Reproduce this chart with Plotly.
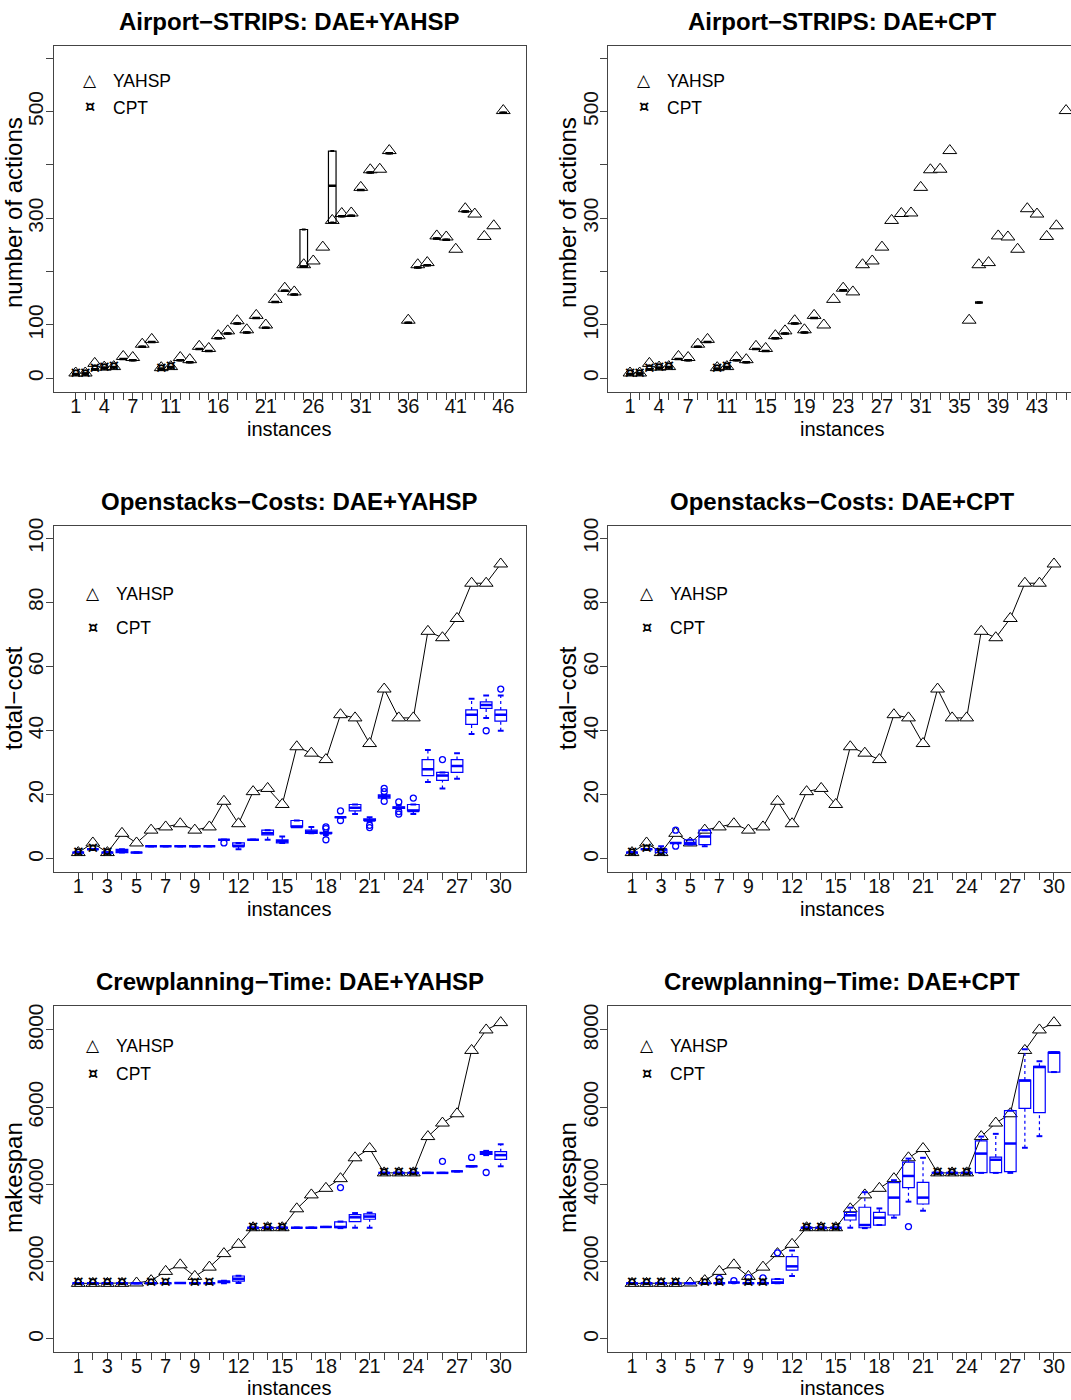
import plotly.graph_objects as go

W, H = 1071, 1400
FONT = "Liberation Sans, Arial, Helvetica, sans-serif"
BLUE = "#0000ff"
FRAME = "#444444"
BOX_W = 0.8          # box width in instance units (R boxwex)
STAPLE = 0.5         # staple width relative to box width

# ---------------- data ----------------
# Airport-STRIPS (46 instances)
air_instances = list(range(1, 47))
air_labels_left = [1, 4, 7, 11, 16, 21, 26, 31, 36, 41, 46]
air_labels_right = [1, 4, 7, 11, 15, 19, 23, 27, 31, 35, 39, 43]
air_yticks = [0, 100, 200, 300, 400, 500, 600]
air_ylabels = ["0", "100", "", "300", "", "500", ""]
air_yahsp = [10, 10, 28, 21, 22, 41, 39, 64, 73, 20,
             22, 39, 35, 60, 56, 80, 89, 108, 91, 118,
             100, 148, 169, 162, 213, 220, 246, 296, 309, 310,
             358, 391, 392, 427, None, 109, 213, 217, 267, 265,
             242, 318, 308, 266, 286, 502]
air_cpt_instances = [1, 2, 3, 4, 5, 10, 11]
air_cpt = [8, 9, 17, 20, 21, 18, 21]
# DAE results: number = all runs equal; tuple = (min, q1, median, q3, max); None = unsolved
air_dae_yahsp = [8, 9, 17, 20, 21, 36, 34, 59, 68, 18,
                 21, 34, 30, 55, 51, 75, 84, 103, 86, 113,
                 95, 143, 164, 157, (209, 209, 209, 279, 279), None, None, (292, 292, 361, 426, 426), 304, 305,
                 353, 386, None, 422, None, 104, 208, 212, 262, 260,
                 None, 313, None, None, None, 498]
air_dae_cpt_instances = [1, 2, 3, 4, 5, 6, 7, 8, 9, 10, 11, 12, 13, 14, 15, 16, 17, 18, 19, 20, 23, 37]
air_dae_cpt = [8, 9, 17, 20, 21, 36, 34, 59, 68, 18, 21, 34, 30, 55, 51, 75, 84, 103, 86, 113, 165, 142]

# Openstacks-Costs (30 instances)
open_instances = list(range(1, 31))
open_labels = [1, 3, 5, 7, 9, 12, 15, 18, 21, 24, 27, 30]
open_yticks = [0, 20, 40, 60, 80, 100]
open_ylabels = ["0", "20", "40", "60", "80", "100"]
open_yahsp = [2, 5, 2, 8, 5, 9, 10, 11, 9, 10,
              18, 11, 21, 22, 17, 35, 33, 31, 45, 44,
              36, 53, 44, 44, 71, 69, 75, 86, 86, 92]
open_cpt_instances = [1, 2, 3]
open_cpt = [2, 3, 2]
open_dae_yahsp = [2, 3, 2, (2, 2, 2.5, 3, 3), 2, 4, 4, 4, 4, 4,
                  6, (3, 4, 4, 5, 5), 6, (6, 7.5, 8, 9, 9), (5, 5, 5.5, 6, 7),
                  (10, 10, 10, 12, 12), (8, 8, 8.5, 9, 10), (7.5, 8, 8, 8.3, 8.5), 13, (14, 15, 16, 17, 17),
                  (11.5, 12, 12, 12.5, 13), (19, 19, 19.5, 20, 20), (15.5, 15.8, 16, 16.3, 16.8),
                  (14, 15, 15, 17, 17), (24, 26, 28, 31, 34),
                  (22, 24.5, 26, 27, 27), (25, 27, 29, 31, 33), (39, 42, 45, 46.5, 50),
                  (44, 47, 48, 49, 51), (40, 43, 45, 46.5, 51)]
open_out_yahsp_x = [11, 18, 18, 18, 19, 19, 21, 21, 22, 22, 22, 23, 23, 23, 24, 26, 29, 30]
open_out_yahsp_y = [5, 10, 9.5, 6, 15, 12, 10.5, 9.8, 22, 21, 18, 17.8, 14.8, 14, 19, 31, 40, 53]
open_dae_cpt_instances = [1, 2, 3, 4, 5, 6]
open_dae_cpt = [2, 3, (2, 2, 3, 3, 4), 5, (4.5, 4.5, 5, 6, 6), (4, 4.5, 7, 9, 9)]
open_out_cpt_x = [4, 4]
open_out_cpt_y = [4, 9]

# Crewplanning-Time (30 instances)
crew_instances = list(range(1, 31))
crew_labels = [1, 3, 5, 7, 9, 12, 15, 18, 21, 24, 27, 30]
crew_yticks = [0, 2000, 4000, 6000, 8000]
crew_ylabels = ["0", "2000", "4000", "6000", "8000"]
crew_yahsp = [1440, 1440, 1440, 1440, 1450, 1510, 1750, 1920, 1620, 1860,
              2210, 2450, 2880, 2880, 2880, 3370, 3730, 3900, 4150, 4690,
              4930, 4300, 4300, 4300, 5240, 5590, 5830, 7470, 8000, 8190]
crew_cpt_instances = [1, 2, 3, 4, 6, 7, 9, 10, 13, 14, 15, 22, 23, 24]
crew_cpt = [1440, 1440, 1440, 1440, 1440, 1440, 1440, 1440, 2880, 2880, 2880, 4300, 4300, 4300]
crew_dae_yahsp = [1440, 1440, 1440, 1440, 1440, 1440, 1440, 1450, 1440, 1440,
                  (1440, 1460, 1480, 1500, 1510), (1450, 1500, 1560, 1630, 1640),
                  2880, 2880, 2880, 2880, 2880, 2900,
                  (2870, 2880, 2900, 3030, 3040), (2880, 3040, 3150, 3220, 3260), (2880, 3100, 3170, 3240, 3270),
                  4300, 4300, 4300, 4300, 4300, 4340, 4470,
                  (4760, 4780, 4810, 4850, 4870), (4470, 4650, 4760, 4850, 5040)]
crew_out_yahsp_x = [19, 26, 28, 29]
crew_out_yahsp_y = [3920, 4600, 4700, 4310]
crew_dae_cpt = [1440, 1440, 1440, 1440, 1440, 1440, 1440, 1460, 1440, 1440,
                (1440, 1440, 1460, 1550, 1550), (1630, 1780, 1880, 2130, 2290),
                2880, 2880, 2880,
                (2880, 3080, 3200, 3280, 3400), (2870, 2880, 2950, 3410, 3800), (2950, 2950, 3140, 3280, 3380),
                (3140, 3210, 3660, 4050, 4110), (3555, 3920, 4220, 4580, 4670), (3320, 3495, 3660, 4055, 4690),
                4300, 4300, 4300,
                (4300, 4305, 4800, 5130, 5240), (4300, 4305, 4640, 4710, 5310), (4300, 4330, 5060, 5910, 5910),
                (4950, 5970, 6690, 6705, 7500), (5250, 5860, 7040, 7060, 7190), (6910, 6910, 7420, 7420, 7420)]
crew_out_cpt_x = [7, 8, 9, 10, 11, 20]
crew_out_cpt_y = [1570, 1510, 1590, 1580, 2230, 2910]

# ---------------- helpers ----------------
def px(x):
    return x / W


def py(y):
    return 1 - y / H


def expand(inst, vals):
    xs, lo, q1, md, q3, hi = [], [], [], [], [], []
    for i, v in zip(inst, vals):
        if v is None:
            continue
        if isinstance(v, tuple):
            a, b, c, d, e = v
        else:
            a = b = c = d = e = v
        xs.append(i); lo.append(a); q1.append(b); md.append(c); q3.append(d); hi.append(e)
    return xs, lo, q1, md, q3, hi


panels = [
    dict(title="Airport\u2212STRIPS: DAE+YAHSP", ytitle="number of actions", inst=air_instances,
         yahsp=air_yahsp, lines=False, cpt_x=air_cpt_instances, cpt_y=air_cpt,
         dae_x=air_instances, dae=air_dae_yahsp, out_x=[], out_y=[], color="black",
         labels=air_labels_left, yt=air_yticks, yl=air_ylabels, xr=[-1.34, 48.34], yr=[-24.7, 624], col=0, row=0),
    dict(title="Airport\u2212STRIPS: DAE+CPT", ytitle="number of actions", inst=air_instances,
         yahsp=air_yahsp, lines=False, cpt_x=air_cpt_instances, cpt_y=air_cpt,
         dae_x=air_dae_cpt_instances, dae=air_dae_cpt, out_x=[], out_y=[], color="black",
         labels=air_labels_right, yt=air_yticks, yl=air_ylabels, xr=[-1.27, 46.51], yr=[-24.7, 624], col=1, row=0),
    dict(title="Openstacks\u2212Costs: DAE+YAHSP", ytitle="total\u2212cost", inst=open_instances,
         yahsp=open_yahsp, lines=True, cpt_x=open_cpt_instances, cpt_y=open_cpt,
         dae_x=open_instances, dae=open_dae_yahsp, out_x=open_out_yahsp_x, out_y=open_out_yahsp_y, color=BLUE,
         labels=open_labels, yt=open_yticks, yl=open_ylabels, xr=[-0.7, 31.7], yr=[-3.9, 104.0], col=0, row=1),
    dict(title="Openstacks\u2212Costs: DAE+CPT", ytitle="total\u2212cost", inst=open_instances,
         yahsp=open_yahsp, lines=True, cpt_x=open_cpt_instances, cpt_y=open_cpt,
         dae_x=open_dae_cpt_instances, dae=open_dae_cpt, out_x=open_out_cpt_x, out_y=open_out_cpt_y, color=BLUE,
         labels=open_labels, yt=open_yticks, yl=open_ylabels, xr=[-0.65, 31.17], yr=[-3.9, 104.0], col=1, row=1),
    dict(title="Crewplanning\u2212Time: DAE+YAHSP", ytitle="makespan", inst=crew_instances,
         yahsp=crew_yahsp, lines=True, cpt_x=crew_cpt_instances, cpt_y=crew_cpt,
         dae_x=crew_instances, dae=crew_dae_yahsp, out_x=crew_out_yahsp_x, out_y=crew_out_yahsp_y, color=BLUE,
         labels=crew_labels, yt=crew_yticks, yl=crew_ylabels, xr=[-0.7, 31.7], yr=[-324, 8633], col=0, row=2),
    dict(title="Crewplanning\u2212Time: DAE+CPT", ytitle="makespan", inst=crew_instances,
         yahsp=crew_yahsp, lines=True, cpt_x=crew_cpt_instances, cpt_y=crew_cpt,
         dae_x=crew_instances, dae=crew_dae_cpt, out_x=crew_out_cpt_x, out_y=crew_out_cpt_y, color=BLUE,
         labels=crew_labels, yt=crew_yticks, yl=crew_ylabels, xr=[-0.65, 31.17], yr=[-324, 8633], col=1, row=2),
]

COLS = [
    dict(left=53.5, right=525.5, title_x=289.5, ytitle_x=13, sym_x=(90, 93), txt_x=(111, 114)),
    dict(left=608, right=W, title_x=842, ytitle_x=567, sym_x=(644, 647), txt_x=(665, 668)),
]
ROWS = [
    dict(top=45.5, bottom=391.5, title_y=22, inst_y=429, ytitle_y=213, leg=(80, 107)),
    dict(top=525.5, bottom=871.5, title_y=501, inst_y=909, ytitle_y=698, leg=(593, 627)),
    dict(top=1005.5, bottom=1351.5, title_y=981, inst_y=1388, ytitle_y=1178, leg=(1045, 1073)),
]

fig = go.Figure()
layout = dict(width=W, height=H, margin=dict(l=0, r=0, t=0, b=0, pad=0), showlegend=False, autosize=False,
              plot_bgcolor="white", paper_bgcolor="white", font=dict(family=FONT, color="black"),
              boxmode="overlay")
annotations = []

for k, p in enumerate(panels, start=1):
    c = COLS[p["col"]]
    r = ROWS[p["row"]]
    xs = "" if k == 1 else str(k)
    xid, yid, oid = "x" + xs, "y" + xs, "y" + str(k + 6)
    layout["xaxis" + xs] = dict(
        domain=[px(c["left"]), px(c["right"])], range=p["xr"], anchor=yid, automargin=False,
        showline=True, linecolor=FRAME, linewidth=1, mirror=True,
        ticks="outside", ticklen=7, tickwidth=1, tickcolor=FRAME, ticklabelstandoff=-11,
        tickvals=p["inst"], ticktext=[str(i) if i in p["labels"] else "" for i in p["inst"]],
        tickangle=0, tickfont=dict(size=20, family=FONT, color="#111"), showgrid=False, zeroline=False)
    layout["yaxis" + xs] = dict(
        domain=[py(r["bottom"]), py(r["top"])], range=p["yr"], anchor=xid, automargin=False,
        showline=True, linecolor=FRAME, linewidth=1, mirror=(p["col"] == 0),
        ticks="outside", ticklen=7, tickwidth=1, tickcolor=FRAME, ticklabelstandoff=-6,
        tickvals=p["yt"], ticktext=p["yl"], tickangle=-90,
        tickfont=dict(size=21, family=FONT, color="#111"), showgrid=False, zeroline=False)
    layout["yaxis" + str(k + 6)] = dict(
        overlaying=yid, range=p["yr"], anchor=xid, visible=False, showgrid=False, zeroline=False)

    # YAHSP reference (white-filled triangles leave a gap in the connecting line, like R type="b")
    fig.add_trace(go.Scatter(
        x=p["inst"], y=p["yahsp"], xaxis=xid, yaxis=yid,
        mode="lines+markers" if p["lines"] else "markers", connectgaps=False,
        line=dict(color="black", width=1),
        marker=dict(symbol="triangle-up", size=12, color="white", line=dict(color="black", width=1))))

    # DAE boxes: box body from the library, whiskers dashed, staples and thick medians as R draws them
    bx, lo, q1, md, q3, hi = expand(p["dae_x"], p["dae"])
    fig.add_trace(go.Box(
        x=bx, q1=q1, median=md, q3=q3, lowerfence=q1, upperfence=q3,
        xaxis=xid, yaxis=oid, width=BOX_W, whiskerwidth=0,
        line=dict(color=p["color"], width=1.2), fillcolor="rgba(0,0,0,0)", boxpoints=False))
    wx, wy, sxs, sys_, mx, my = [], [], [], [], [], []
    hw, sw = BOX_W / 2, BOX_W * STAPLE / 2
    for x, a, b, m, d, e in zip(bx, lo, q1, md, q3, hi):
        if a < b:
            wx += [x, x, None]; wy += [a, b, None]
        if e > d:
            wx += [x, x, None]; wy += [d, e, None]
        sxs += [x - sw, x + sw, None, x - sw, x + sw, None]
        sys_ += [a, a, None, e, e, None]
        mx += [x - hw, x + hw, None]
        my += [m, m, None]
    if wx:
        fig.add_trace(go.Scatter(x=wx, y=wy, xaxis=xid, yaxis=oid, mode="lines",
                                 line=dict(color=p["color"], width=1.2, dash="3px,3px")))
    fig.add_trace(go.Scatter(x=sxs, y=sys_, xaxis=xid, yaxis=oid, mode="lines",
                             line=dict(color=p["color"], width=2)))
    fig.add_trace(go.Scatter(x=mx, y=my, xaxis=xid, yaxis=oid, mode="lines",
                             line=dict(color=p["color"], width=2.5)))

    if p["out_x"]:
        fig.add_trace(go.Scatter(
            x=p["out_x"], y=p["out_y"], xaxis=xid, yaxis=oid, mode="markers",
            marker=dict(symbol="circle-open", size=6, color=p["color"], line=dict(width=1.3))))

    # CPT results
    fig.add_trace(go.Scatter(
        x=p["cpt_x"], y=p["cpt_y"], xaxis=xid, yaxis=oid, mode="text",
        text=["\u00a4"] * len(p["cpt_x"]), textposition="middle center",
        textfont=dict(size=16, color="black", family="DejaVu Sans", weight="bold")))

    annotations += [
        dict(text="<b>" + p["title"] + "</b>", x=px(c["title_x"]), y=py(r["title_y"]),
             xref="paper", yref="paper", xanchor="center", yanchor="middle", showarrow=False,
             font=dict(size=24, family=FONT)),
        dict(text="instances", x=px(c["title_x"]), y=py(r["inst_y"]),
             xref="paper", yref="paper", xanchor="center", yanchor="middle", showarrow=False,
             font=dict(size=20, family=FONT)),
        dict(text=p["ytitle"], x=px(c["ytitle_x"]), y=py(r["ytitle_y"]), textangle=-90,
             xref="paper", yref="paper", xanchor="center", yanchor="middle", showarrow=False,
             font=dict(size=24, family=FONT)),
    ]
    sx = c["sym_x"][0 if p["row"] == 0 else 1]
    tx = c["txt_x"][0 if p["row"] == 0 else 1]
    annotations.append(dict(text="\u25b3", x=px(sx), y=py(r["leg"][0]), xref="paper", yref="paper",
                            xanchor="center", yanchor="middle", showarrow=False,
                            font=dict(size=17, family="DejaVu Sans")))
    annotations.append(dict(text="\u00a4", x=px(sx), y=py(r["leg"][1]), xref="paper", yref="paper",
                            xanchor="center", yanchor="middle", showarrow=False,
                            font=dict(size=16, family="DejaVu Sans", weight="bold")))
    for lab, yy in (("YAHSP", r["leg"][0]), ("CPT", r["leg"][1])):
        annotations.append(dict(text=lab, x=px(tx), y=py(yy + 1), xref="paper", yref="paper",
                                xanchor="left", yanchor="middle", showarrow=False,
                                font=dict(size=17.5, family=FONT)))

layout["annotations"] = annotations
fig.update_layout(**layout)

fig.write_html("out.html", config={"displayModeBar": False},
               post_script=("document.documentElement.style.margin='0px';"
                            "document.body.style.margin='0px';document.body.style.padding='0px';"
                            "document.documentElement.style.overflow='hidden';"
                            "document.body.style.overflow='hidden';window.scrollTo(0,0);"))
